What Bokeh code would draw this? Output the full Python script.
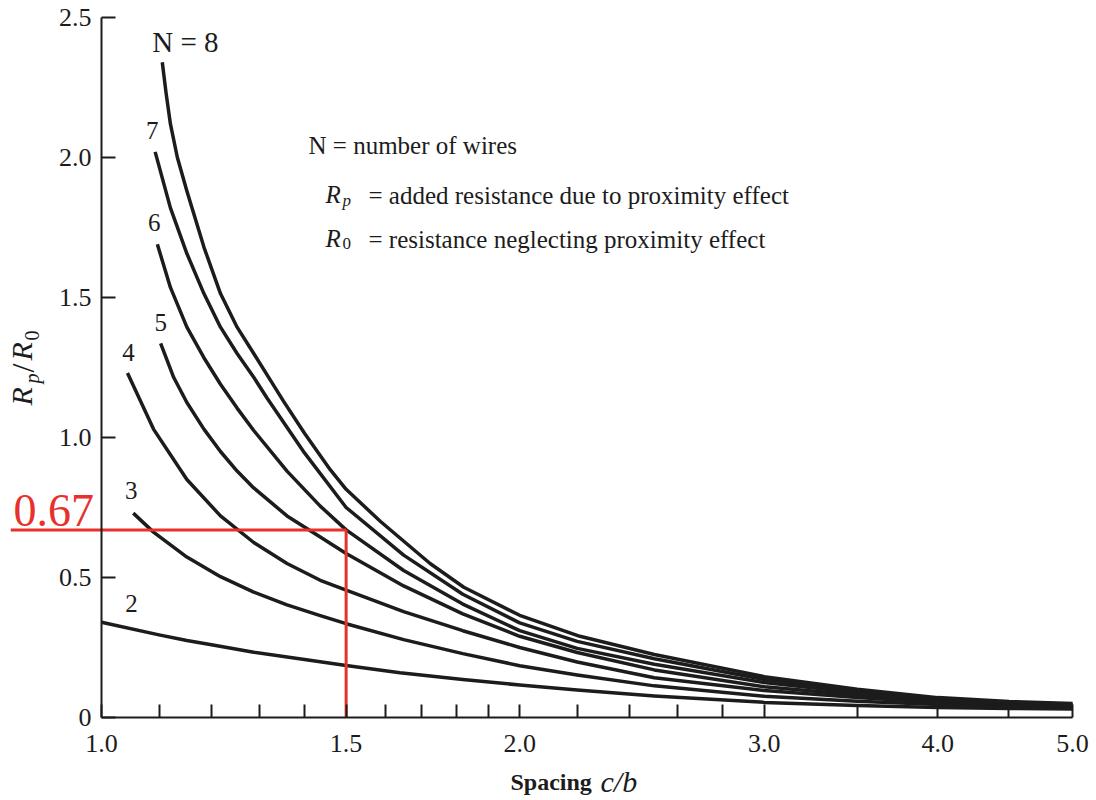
import math
from bokeh.plotting import figure
from bokeh.models import Range1d, FixedTicker, CustomJSTickFormatter, Label
from bokeh.embed import file_html
from bokeh.resources import INLINE

# ---------------- data ----------------
n2_x = [1.0, 1.1, 1.152, 1.2, 1.287, 1.4, 1.5, 1.64, 1.82, 2.0, 2.2, 2.5, 3.0, 3.5, 4.0, 4.5, 5.0]
n2_y = [0.34, 0.295, 0.275, 0.26, 0.233, 0.207, 0.186, 0.16, 0.136, 0.116, 0.098, 0.077, 0.054, 0.043, 0.036, 0.032, 0.030]

n3_x = [1.054, 1.09, 1.152, 1.218, 1.287, 1.36, 1.437, 1.5, 1.65, 1.82, 2.0, 2.2, 2.5, 3.0, 3.5, 4.0, 4.5, 5.0]
n3_y = [0.73, 0.662, 0.573, 0.503, 0.448, 0.402, 0.364, 0.335, 0.278, 0.228, 0.185, 0.152, 0.113, 0.076, 0.058, 0.046, 0.040, 0.036]

n4_x = [1.044, 1.09, 1.152, 1.218, 1.287, 1.36, 1.437, 1.5, 1.65, 1.82, 2.0, 2.2, 2.5, 3.0, 3.5, 4.0, 4.5, 5.0]
n4_y = [1.23, 1.03, 0.85, 0.72, 0.625, 0.55, 0.49, 0.455, 0.378, 0.31, 0.25, 0.198, 0.142, 0.096, 0.071, 0.054, 0.046, 0.041]

n5_x = [1.103, 1.127, 1.152, 1.185, 1.218, 1.252, 1.287, 1.36, 1.437, 1.5, 1.65, 1.82, 2.0, 2.2, 2.5, 3.0, 3.5, 4.0, 4.5, 5.0]
n5_y = [1.336, 1.215, 1.125, 1.03, 0.95, 0.88, 0.82, 0.72, 0.645, 0.586, 0.47, 0.37, 0.29, 0.232, 0.17, 0.11, 0.08, 0.059, 0.049, 0.043]

n6_x = [1.097, 1.121, 1.152, 1.185, 1.218, 1.252, 1.287, 1.36, 1.437, 1.5, 1.65, 1.82, 2.0, 2.2, 2.5, 3.0, 3.5, 4.0, 4.5, 5.0]
n6_y = [1.69, 1.536, 1.394, 1.285, 1.19, 1.105, 1.025, 0.88, 0.755, 0.67, 0.525, 0.405, 0.31, 0.247, 0.19, 0.125, 0.088, 0.063, 0.051, 0.045]

n7_x = [1.093, 1.121, 1.152, 1.185, 1.218, 1.252, 1.287, 1.316, 1.4, 1.5, 1.65, 1.82, 2.0, 2.2, 2.5, 3.0, 3.5, 4.0, 4.5, 5.0]
n7_y = [2.02, 1.82, 1.657, 1.514, 1.394, 1.30, 1.215, 1.14, 0.945, 0.75, 0.58, 0.44, 0.338, 0.272, 0.21, 0.136, 0.096, 0.067, 0.054, 0.047]

n8_x = [1.106, 1.113, 1.121, 1.134, 1.152, 1.185, 1.218, 1.252, 1.287, 1.323, 1.352, 1.4, 1.461, 1.5, 1.588, 1.632, 1.724, 1.823, 2.0, 2.21, 2.5, 3.0, 3.5, 4.0, 4.5, 5.0]
n8_y = [2.34, 2.23, 2.12, 2.0, 1.88, 1.68, 1.514, 1.394, 1.30, 1.205, 1.13, 1.015, 0.885, 0.815, 0.70, 0.65, 0.55, 0.465, 0.365, 0.29, 0.225, 0.146, 0.101, 0.071, 0.057, 0.050]

curve_labels = ["2", "3", "4", "5", "6", "7", "N = 8"]

x_major = [1.0, 1.5, 2.0, 3.0, 4.0, 5.0]
x_minor = [1.1, 1.2, 1.3, 1.4, 1.6, 1.7, 1.8, 1.9, 2.2, 2.4, 2.6, 2.8, 3.5, 4.5]
y_major = [0.0, 0.5, 1.0, 1.5, 2.0, 2.5]

marker_x = 1.5
marker_y = 0.67

legend_lines = ["N = number of wires",
                "= added resistance due to proximity effect",
                "= resistance neglecting proximity effect"]

# ---------------- layout (page pixels) ----------------
PX_X1, PX_X5 = 101, 1072      # where c/b = 1 and c/b = 5 sit
PX_Y0, PX_PER_UNIT = 717, 280
DEC = (PX_X5 - PX_X1) / math.log10(5.0)
FL, FR, FT, FB = 10, 1090, 4, 798

def xpx(px):
    return 10 ** ((px - PX_X1) / DEC)

def ypx(py):
    return (PX_Y0 - py) / PX_PER_UNIT

INK = "#1c1c1c"
RED = "#e8302c"
SERIF = "Liberation Serif"

p = figure(x_axis_type="log", x_range=Range1d(xpx(FL), xpx(FR)), y_range=Range1d(ypx(FB), ypx(FT)),
           frame_width=FR - FL, frame_height=FB - FT,
           min_border_left=FL, min_border_right=4, min_border_top=FT, min_border_bottom=0,
           output_backend="svg", toolbar_location=None,
           background_fill_color="white", border_fill_color="white", outline_line_color=None)
p.grid.visible = False

xa = p.xaxis[0]
xa.fixed_location = 0.0
xa.ticker = FixedTicker(ticks=x_major, minor_ticks=x_minor)
xa.formatter = CustomJSTickFormatter(code="return tick.toFixed(1);")
xa.bounds = (1.0, 5.0)
xa.major_tick_in = 13
xa.major_tick_out = 0
xa.minor_tick_in = 13
xa.minor_tick_out = 0
xa.axis_line_width = 2
xa.major_tick_line_width = 2
xa.minor_tick_line_width = 2
xa.axis_line_color = INK
xa.major_tick_line_color = INK
xa.minor_tick_line_color = INK
xa.major_label_text_font = SERIF
xa.major_label_text_font_size = "26px"
xa.major_label_text_color = INK
xa.major_label_standoff = 17

ya = p.yaxis[0]
ya.fixed_location = 1.0
ya.ticker = FixedTicker(ticks=y_major, minor_ticks=[])
ya.formatter = CustomJSTickFormatter(code="return tick == 0 ? '0' : tick.toFixed(1);")
ya.bounds = (0.0, 2.5)
ya.major_tick_in = 14
ya.major_tick_out = 0
ya.minor_tick_in = 0
ya.minor_tick_out = 0
ya.axis_line_width = 2
ya.major_tick_line_width = 2
ya.axis_line_color = INK
ya.major_tick_line_color = INK
ya.major_label_text_font = SERIF
ya.major_label_text_font_size = "26px"
ya.major_label_text_color = INK
ya.major_label_standoff = 10

# ---------------- curves ----------------
series = [(n2_x, n2_y), (n3_x, n3_y), (n4_x, n4_y), (n5_x, n5_y),
          (n6_x, n6_y), (n7_x, n7_y), (n8_x, n8_y)]
offsets = [(30, 19, "center"), (-2, 23, "center"), (1, 21, "center"), (0, 21, "center"),
           (-3, 22, "center"), (-3, 21, "center"), (-10, 20, "left")]
for (xs, ys), lab, (dx, dy, al) in zip(series, curve_labels, offsets):
    p.line(xs, ys, line_width=3.5, line_color=INK, line_join="round")
    p.add_layout(Label(x=xs[0], y=ys[0], text=lab, x_offset=dx, y_offset=dy,
                       text_align=al, text_baseline="middle",
                       text_font=SERIF, text_font_size="29px" if lab.startswith("N") else "25px",
                       text_color=INK))

# ---------------- red marker ----------------
p.line([xpx(FL), marker_x], [marker_y, marker_y], line_width=3, line_color=RED)
p.line([marker_x, marker_x], [0, marker_y], line_width=3, line_color=RED)
p.add_layout(Label(x=xpx(FL), y=marker_y, text=f"{marker_y:.2f}", x_offset=3, y_offset=19,
                   text_align="left", text_baseline="middle",
                   text_font=SERIF, text_font_size="46px", text_color=RED))

# ---------------- legend text ----------------
def txt(px, py, s, size, style="normal", align="left", angle=0.0):
    p.add_layout(Label(x=xpx(px), y=ypx(py), text=s, text_align=align, text_baseline="middle",
                       angle=angle, text_font=SERIF, text_font_style=style,
                       text_font_size=size, text_color=INK))

txt(308, 145, legend_lines[0], "25px")
txt(325, 194, "R", "25px", "italic")
txt(342, 200, "p", "17px", "italic")
txt(368, 195, legend_lines[1], "25px")
txt(325, 238, "R", "25px", "italic")
txt(342, 243, "0", "17px")
txt(368, 239, legend_lines[2], "25px")

# ---------------- axis titles ----------------
txt(510, 781, "Spacing", "24px", "bold")
txt(600, 781, "c/b", "30px", "italic")

half_pi = math.pi / 2
txt(21, 405, "R", "30px", "italic", angle=half_pi)
txt(31, 383, "p", "20px", "italic", angle=half_pi)
txt(22, 372, "/", "32px", angle=half_pi)
txt(21, 360, "R", "30px", "italic", angle=half_pi)
txt(31, 340, "0", "20px", angle=half_pi)

open("out.html", "w").write(file_html(p, INLINE))
